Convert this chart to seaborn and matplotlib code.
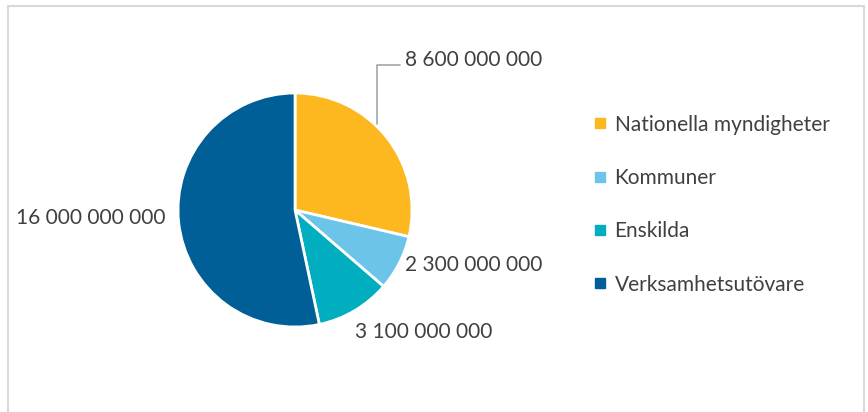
import numpy as np
import seaborn as sns
import matplotlib.pyplot as plt
from matplotlib.lines import Line2D
from matplotlib.patches import Rectangle

categories = ['Nationella myndigheter', 'Kommuner', 'Enskilda', 'Verksamhetsutövare']
values = [8600000000, 2300000000, 3100000000, 16000000000]
colors = ['#FDB71F', '#6CC5E9', '#00AEBF', '#005F96']

sns.set_theme(style='white')
plt.rcParams['font.family'] = ['Lato', 'DejaVu Sans']
text_color = '#404040'

fig = plt.figure(figsize=(8.68, 4.12), dpi=100)

# chart frame (light grey border, like the Excel chart area)
fig.patches.append(Rectangle((8 / 868, -0.05), 856 / 868, 1.05 - 6 / 412,
                             transform=fig.transFigure, fill=False,
                             edgecolor='#D9D9D9', linewidth=1.5))

ax = fig.add_axes([0.1714, 0.1353, 0.337, 0.710])
wedges, _ = ax.pie(values, colors=colors, startangle=90, counterclock=False,
                   wedgeprops=dict(edgecolor='white', linewidth=2))
ax.set_xlim(-1.25, 1.25)
ax.set_ylim(-1.25, 1.25)
ax.set_aspect('equal')
ax.axis('off')

def fmt(v):
    return f'{v:,.0f}'.replace(',', ' ')

# data labels
label_pos = [(0.94, 1.28, 'left'), (0.94, -0.47, 'left'),
             (0.51, -1.04, 'left'), (-1.11, -0.07, 'right')]
for v, (x, y, ha) in zip(values, label_pos):
    ax.text(x, y, fmt(v), ha=ha, va='center', fontsize=15, color=text_color,
            clip_on=False)

# leader line for the first label
w = wedges[0]
mid = np.deg2rad((w.theta1 + w.theta2) / 2 + 8)
px, py = 1.02 * np.cos(mid), 1.02 * np.sin(mid)
ax.plot([px, px, 0.90], [py, 1.24, 1.24], color='#A5A5A5', linewidth=1.2,
        clip_on=False)

handles = [Line2D([0], [0], marker='s', linestyle='none', markersize=7,
                  markerfacecolor=c, markeredgecolor=c) for c in colors]
fig.legend(handles, categories, loc='upper left', bbox_to_anchor=(0.672, 0.742),
           frameon=False, fontsize=15, labelcolor=text_color, handletextpad=0.3,
           handlelength=0.8, labelspacing=1.6, borderaxespad=0)

fig.savefig('out.png', dpi=100)
